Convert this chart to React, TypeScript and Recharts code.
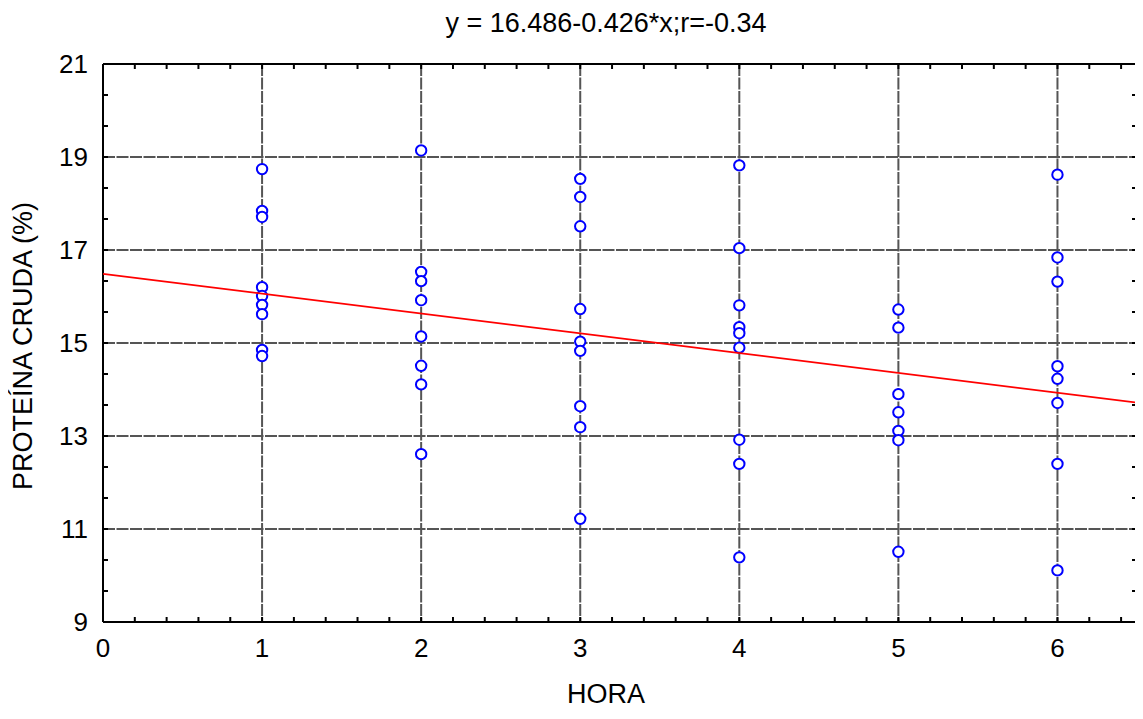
import React from 'react';
import { ScatterChart, Scatter, XAxis, YAxis, CartesianGrid, Label } from 'recharts';

// values read per hour (PROTEÍNA CRUDA %)
const horas = [1, 2, 3, 4, 5, 6];
const hora1 = [18.74, 17.84, 17.71, 16.2, 16.01, 15.82, 15.62, 14.85, 14.72];
const hora2 = [19.14, 16.53, 16.33, 15.92, 15.14, 14.51, 14.11, 12.61];
const hora3 = [18.53, 18.14, 17.51, 15.73, 15.03, 14.83, 13.64, 13.19, 11.22];
const hora4 = [18.82, 17.04, 15.81, 15.34, 15.21, 14.9, 12.92, 12.4, 10.39];
const hora5 = [15.72, 15.33, 13.9, 13.51, 13.11, 12.91, 10.51];
const hora6 = [18.62, 16.84, 16.32, 14.5, 14.23, 13.71, 12.4, 10.11];

// fitted line y = 16.486-0.426*x, drawn across the x range
const fitX = [0, 6.5];
const fitY = [16.486, 13.717];

const xMajor = [0, 1, 2, 3, 4, 5, 6];
const yMajor = [9, 11, 13, 15, 17, 19, 21];
const xGrid = [1, 2, 3, 4, 5, 6];
const yGrid = [11, 13, 15, 17, 19];

const title = 'y = 16.486-0.426*x;r=-0.34';

const xMinor: number[] = [];
for (let i = 0; i <= 32; i++) xMinor.push(Math.round(i * 2) / 10);
const yMinor: number[] = [];
for (let i = 0; i <= 18; i++) yMinor.push(9 + (i * 2) / 3);

const seriesByHour = [hora1, hora2, hora3, hora4, hora5, hora6];
const points = seriesByHour.flatMap((vals, i) => vals.map((v) => ({ x: horas[i], y: v })));
const fitData = fitX.map((x, i) => ({ x, y: fitY[i] }));

const FONT = '"Liberation Sans", Arial, sans-serif';
const FS = 26;
const LFS = 27;

const isMajorX = (v: number) => xMajor.some((m) => Math.abs(m - v) < 1e-6);
const isMajorY = (v: number) => yMajor.some((m) => Math.abs(m - v) < 1e-6);

const BottomTick = (props: any) => {
  const { x, y, payload } = props;
  return (
    <g>
      <line x1={x} y1={y} x2={x} y2={y - 5} stroke="#000" strokeWidth={2} />
      {isMajorX(payload.value) && (
        <text x={x} y={y + 35} textAnchor="middle" fontFamily={FONT} fontSize={FS} fill="#000">
          {Math.round(payload.value)}
        </text>
      )}
    </g>
  );
};

const TopTick = (props: any) => {
  const { x, y } = props;
  return <line x1={x} y1={y} x2={x} y2={y + 5} stroke="#000" strokeWidth={2} />;
};

const LeftTick = (props: any) => {
  const { x, y, payload } = props;
  return (
    <g>
      <line x1={x} y1={y} x2={x + 5} y2={y} stroke="#000" strokeWidth={2} />
      {isMajorY(payload.value) && (
        <text x={x - 15} y={y} dy="0.36em" textAnchor="end" fontFamily={FONT} fontSize={FS} fill="#000">
          {Math.round(payload.value)}
        </text>
      )}
    </g>
  );
};

const RightTick = (props: any) => {
  const { x, y } = props;
  return <line x1={x} y1={y} x2={x - 5} y2={y} stroke="#000" strokeWidth={2} />;
};

const Dot = (props: any) => (
  <circle cx={props.cx} cy={props.cy} r={5.2} fill="#fff" stroke="#0000ff" strokeWidth={2} />
);

const NoDot = () => <g />;

const axisLine = { stroke: '#000', strokeWidth: 2 };

export default function App() {
  return (
    <div style={{ width: 1135, height: 700 }}>
      <ScatterChart width={1135} height={700} margin={{ top: 55, right: 5, bottom: 0, left: 0 }}>
        <CartesianGrid
          stroke="#555"
          strokeWidth={2}
          strokeDasharray="12 1.5"
          verticalValues={xGrid}
          horizontalValues={yGrid}
        />
        <XAxis
          dataKey="x"
          type="number"
          domain={[0, 6.5]}
          allowDataOverflow
          ticks={xMinor}
          interval={0}
          tick={BottomTick}
          tickLine={false}
          tickSize={0}
          tickMargin={0}
          axisLine={axisLine}
          height={86}
        >
          <Label
            content={() => (
              <g>
                <text x={598} y={695} textAnchor="middle" fontFamily={FONT} fontSize={LFS} fill="#000">
                  HORA
                </text>
                <text x={598} y={24} textAnchor="middle" fontFamily={FONT} fontSize={LFS} fill="#000">
                  {title}
                </text>
              </g>
            )}
          />
        </XAxis>
        <XAxis
          xAxisId="top"
          orientation="top"
          dataKey="x"
          type="number"
          domain={[0, 6.5]}
          allowDataOverflow
          ticks={xMinor}
          interval={0}
          tick={TopTick}
          tickLine={false}
          tickSize={0}
          tickMargin={0}
          axisLine={axisLine}
          height={1}
        />
        <YAxis
          dataKey="y"
          type="number"
          domain={[9, 21]}
          allowDataOverflow
          ticks={yMinor}
          interval={0}
          tick={LeftTick}
          tickLine={false}
          tickSize={0}
          tickMargin={0}
          axisLine={axisLine}
          width={95}
        >
          <Label
            content={() => (
              <text
                x={24}
                y={338}
                transform="rotate(-90 24 338)"
                textAnchor="middle"
                fontFamily={FONT}
                fontSize={LFS}
                fill="#000"
              >
                PROTEÍNA CRUDA (%)
              </text>
            )}
          />
        </YAxis>
        <YAxis
          yAxisId="right"
          orientation="right"
          dataKey="y"
          type="number"
          domain={[9, 21]}
          allowDataOverflow
          ticks={yMinor}
          interval={0}
          tick={RightTick}
          tickLine={false}
          tickSize={0}
          tickMargin={0}
          axisLine={axisLine}
          width={1}
        />
        <Scatter data={points} shape={Dot} isAnimationActive={false} />
        <Scatter
          data={fitData}
          xAxisId="top"
          yAxisId="right"
          shape={NoDot}
          line={{ stroke: '#ff0000', strokeWidth: 1.8 }}
          lineType="joint"
          isAnimationActive={false}
        />
      </ScatterChart>
    </div>
  );
}
